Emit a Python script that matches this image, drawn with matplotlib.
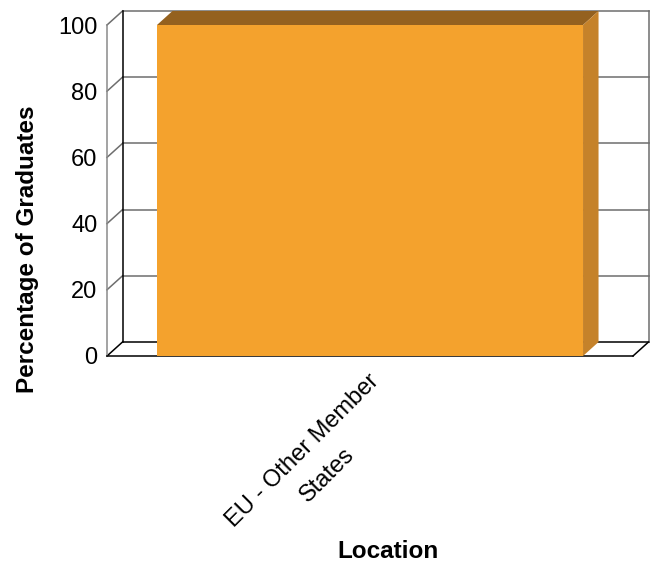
import numpy as np
import matplotlib.pyplot as plt
import matplotlib.transforms as mtransforms

plt.rcParams["font.family"] = ["Liberation Sans", "DejaVu Sans"]

categories = ["EU - Other Member\nStates"]
values = [100]
yticks = [0, 20, 40, 60, 80, 100]

W, H = 653, 563
fig = plt.figure(figsize=(W / 100, H / 100), dpi=100)
# front plane of the 3d box in pixels: x 107..633, y 25..356
ax = fig.add_axes([107 / W, (H - 356) / H, 526 / W, 331 / H])
ax.set_xlim(-0.5, 0.5)
ax.set_ylim(0, 100)
for s in ax.spines.values():
    s.set_visible(False)

# depth offset (data units)
dx = 15.5 / 526
dy = 14 / 331 * 100
x0, x1 = -0.5, 0.5

grid_c = "#6e6e6e"
# back wall gridlines
for t in yticks:
    ax.plot([x0 + dx, x1 + dx], [t + dy, t + dy], color="black" if t == 0 else grid_c,
            lw=1.1, clip_on=False, zorder=1)
    # left side wall diagonals
    ax.plot([x0, x0 + dx], [t, t + dy], color="black" if t == 0 else grid_c,
            lw=1.1, clip_on=False, zorder=1)
# wall verticals
ax.plot([x0, x0], [0, 100], color="#8a8a8a", lw=1.1, clip_on=False, zorder=1)
ax.plot([x0 + dx, x0 + dx], [dy, 100 + dy], color="black", lw=1.1, clip_on=False, zorder=1)
ax.plot([x1 + dx, x1 + dx], [dy, 100 + dy], color=grid_c, lw=1.1, clip_on=False, zorder=1)
# floor
ax.plot([x0, x1], [0, 0], color="black", lw=1.1, clip_on=False, zorder=1)
ax.plot([x1, x1 + dx], [0, dy], color="black", lw=1.1, clip_on=False, zorder=1)

# bars
xs = np.arange(len(categories))
bw = 0.81
ax.bar(xs, values, width=bw, color="#F4A22D", zorder=3, clip_on=False)
for x, v in zip(xs, values):
    xl, xr = x - bw / 2, x + bw / 2
    ax.fill([xl, xr, xr + dx, xl + dx], [v, v, v + dy, v + dy],
            color="#94611F", zorder=3, clip_on=False, lw=0)
    ax.fill([xr, xr + dx, xr + dx, xr], [0, dy, v + dy, v],
            color="#C5822A", zorder=3, clip_on=False, lw=0)

ax.set_yticks(yticks)
ax.tick_params(axis="y", length=0, pad=7, labelsize=17)
ax.set_xticks(xs, categories)
ax.tick_params(axis="x", length=0, pad=0, labelsize=17)
offset = mtransforms.ScaledTranslation(-2 / 100, -14 / 100, fig.dpi_scale_trans)
for lab in ax.get_xticklabels():
    lab.set_rotation(45)
    lab.set_ha("right")
    lab.set_va("top")
    lab.set_rotation_mode("anchor")
    lab.set_multialignment("center")
    lab.set_linespacing(1.75)
    lab.set_transform(lab.get_transform() + offset)

ax.set_xlabel("Location", fontsize=17.5, fontweight="bold", va="center")
ax.xaxis.set_label_coords((388 - 107) / 526, -(551 - 356) / 331)
ax.set_ylabel("Percentage of Graduates", fontsize=17.5, fontweight="bold", va="center")
ax.yaxis.set_label_coords((27 - 107) / 526, (356 - 249) / 331)

fig.savefig("out.png", dpi=100)
